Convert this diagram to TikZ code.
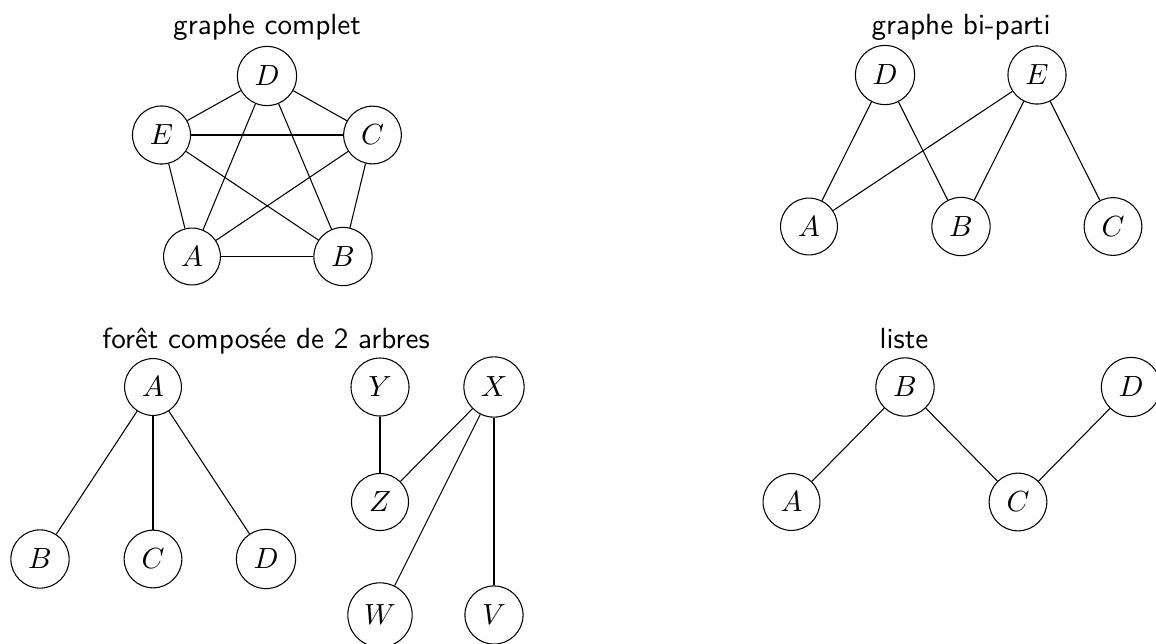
\documentclass[tikz,border=0pt,11pt]{standalone}
\begin{document}
\begin{tikzpicture}[x=0.013193cm,y=-0.013193cm,
  vertex/.style={draw,circle},
  title/.style={font=\sffamily,anchor=base}]
\clip (0,0) rectangle (1156,643);

% graphe complet
\node[title] (t1) at (267,34) {graphe complet};
\node[vertex] (cD) at (267,76) {$D$};
\node[vertex] (cE) at (161.5,135) {$E$};
\node[vertex] (cC) at (372.5,135) {$C$};
\node[vertex] (cA) at (192,256.5) {$A$};
\node[vertex] (cB) at (343,256.5) {$B$};
\foreach \u/\v in {cD/cE,cD/cC,cD/cA,cD/cB,cE/cC,cE/cA,cE/cB,cC/cA,cC/cB,cA/cB}
  \draw (\u) -- (\v);

% graphe bi-parti
\node[title] (t2) at (961,34) {graphe bi-parti};
\node[vertex] (bD) at (885,75) {$D$};
\node[vertex] (bE) at (1037,75) {$E$};
\node[vertex] (bA) at (809,226.5) {$A$};
\node[vertex] (bB) at (961,226.5) {$B$};
\node[vertex] (bC) at (1113,226.5) {$C$};
\foreach \u/\v in {bD/bA,bD/bB,bE/bA,bE/bB,bE/bC}
  \draw (\u) -- (\v);

% foret
\node[title] (t3) at (266,348) {forêt composée de 2 arbres};
\node[vertex] (fA) at (153,387) {$A$};
\node[vertex] (fB) at (40,559) {$B$};
\node[vertex] (fC) at (153,559) {$C$};
\node[vertex] (fD) at (266,559) {$D$};
\node[vertex] (fY) at (380,387) {$Y$};
\node[vertex] (fX) at (494,387) {$X$};
\node[vertex] (fZ) at (380,502) {$Z$};
\node[vertex] (fW) at (380,615) {$W$};
\node[vertex] (fV) at (494,615) {$V$};
\foreach \u/\v in {fA/fB,fA/fC,fA/fD,fY/fZ,fX/fZ,fX/fW,fX/fV}
  \draw (\u) -- (\v);

% liste
\node[title] (t4) at (904,348) {liste};
\node[vertex] (lB) at (905,387) {$B$};
\node[vertex] (lD) at (1131,387) {$D$};
\node[vertex] (lA) at (791.5,502) {$A$};
\node[vertex] (lC) at (1018,502) {$C$};
\foreach \u/\v in {lA/lB,lB/lC,lC/lD}
  \draw (\u) -- (\v);
\end{tikzpicture}
\end{document}
